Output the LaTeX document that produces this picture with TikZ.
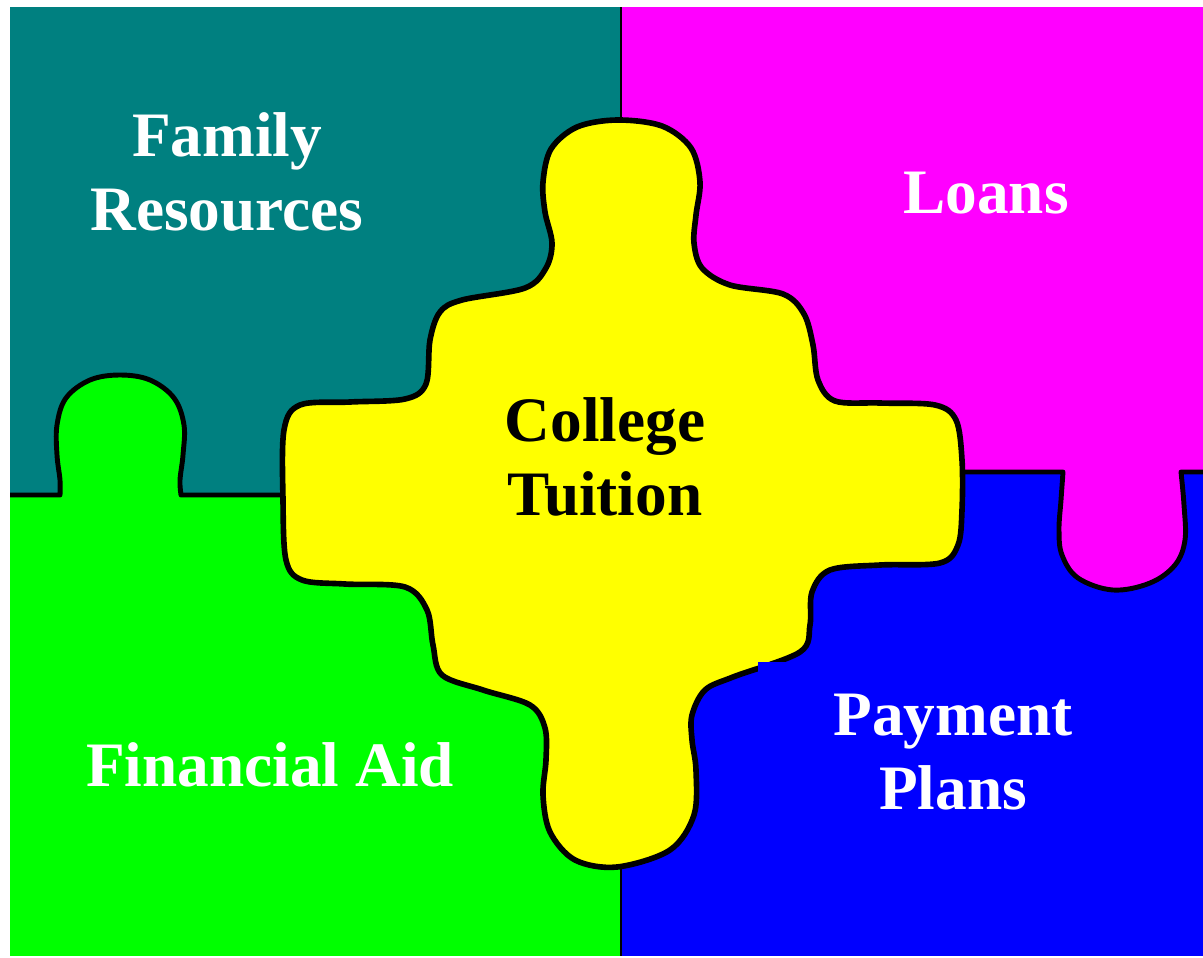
\documentclass[tikz,border=0pt]{standalone}
\usepackage{fontspec}
\setmainfont{Liberation Serif}
\definecolor{tileteal}{RGB}{0,128,128}
\definecolor{tilemagenta}{RGB}{255,0,255}
\definecolor{tilegreen}{RGB}{0,255,0}
\definecolor{tileblue}{RGB}{0,0,255}
\definecolor{tileyellow}{RGB}{255,255,0}

\begin{document}
\begin{tikzpicture}[x=0.01cm,y=-0.01cm,
    seam/.style={draw=black,line width=1.4pt,line join=round},
    piece/.style={fill=tileyellow,draw=black,line width=1.6pt,line join=round},
    tiletext/.style={font=\fontsize{18}{21}\selectfont\bfseries,text=white,align=center}]
  \useasboundingbox (0,0) rectangle (1203,957);
  \fill[white] (0,0) rectangle (1203,957);

  % the four tiles
  \fill[tileteal]    (10,7)   rectangle (621,495);
  \fill[tilemagenta] (621,7)  rectangle (1203,472);
  \fill[tilegreen]   (10,495) rectangle (621,956);
  \fill[tileblue]    (621,472) rectangle (1203,956);

  % knobs
  \fill[tilegreen] plot[smooth,tension=0.6] coordinates {(60,497) (60,480) (57,455) (57,425) (66,398) (90,380) (120,375) (150,380) (174,398) (184,425) (183,455) (180,480) (181,497)} -- cycle;
  \fill[tilemagenta] plot[smooth,tension=0.6] coordinates {(1063,470) (1061,500) (1059,530) (1062,555) (1078,578) (1113,590) (1150,583) (1175,565) (1185,540) (1184,505) (1181,470)} -- cycle;

  \draw[line width=0.8pt] (621,7) -- (621,956);
  \draw[seam] (10,495) -- plot[smooth,tension=0.6] coordinates {(60,495) (60,480) (57,455) (57,425) (66,398) (90,380) (120,375) (150,380) (174,398) (184,425) (183,455) (180,480) (181,495)} -- (290,495);
  \draw[seam] (955,472) -- plot[smooth,tension=0.6] coordinates {(1063,472) (1061,500) (1059,530) (1062,555) (1078,578) (1113,590) (1150,583) (1175,565) (1185,540) (1184,505) (1181,472)} -- (1203,472);

  % centre piece
  \draw[piece] plot[smooth cycle,tension=0.55] coordinates {
    (617,120) (662,126) (691,148) (700,182) (696,215) (694,243) (702,268)
    (730,285) (783,294) (804,314) (813,345) (818,380) (835,401) (880,403)
    (935,405) (956,420) (962,460) (962,510) (958,545) (940,563) (880,565)
    (830,570) (812,592) (810,625) (800,652) (733,677) (705,690) (692,715)
    (692,740) (696,770) (694,815) (670,850) (617,867) (575,860) (550,832)
    (543,795) (546,760) (545,728) (530,705) (483,690) (442,675) (433,645)
    (427,610) (405,587) (345,584) (302,580) (286,560) (283,500) (284,430)
    (300,405) (350,402) (405,399) (426,384) (430,340) (440,312)
    (462,300) (525,288) (546,268) (552,243) (545,212) (543,182) (551,149)
    (577,127)};
  \fill[tileblue] (758,662) rectangle (812,700);

  \node[tiletext] (family)  at (227,172) {Family\\Resources};
  \node[tiletext] (loans)   at (986,193) {Loans};
  \node[tiletext,text=black] (tuition) at (605,457) {College\\Tuition};
  \node[tiletext] (aid)     at (270,765) {Financial Aid};
  \node[tiletext] (plans)   at (953,752) {Payment\\Plans};
\end{tikzpicture}
\end{document}
